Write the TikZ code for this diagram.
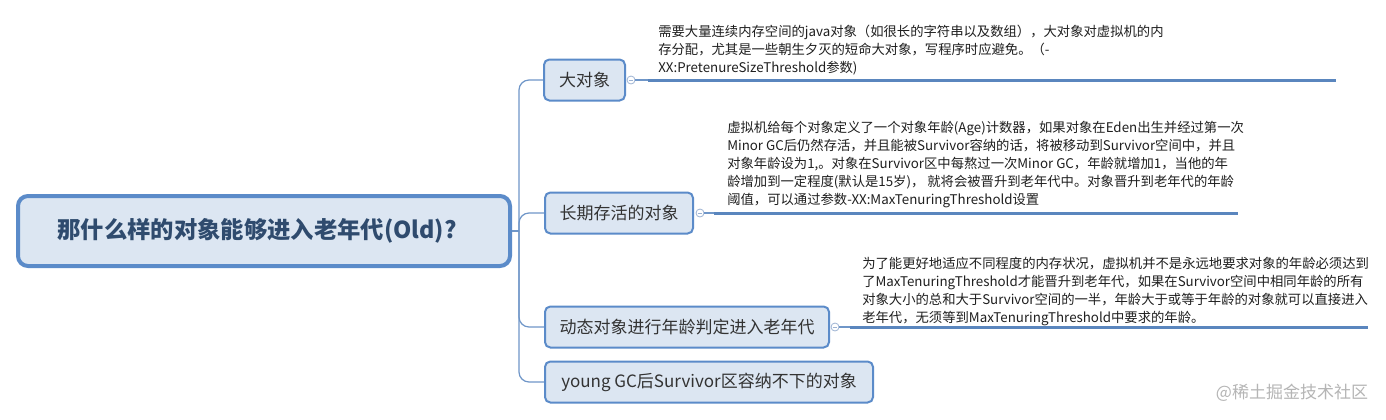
\documentclass[tikz,border=0pt]{standalone}
\usepackage{fontspec}
\setmainfont{Noto Sans CJK SC}
\definecolor{nodeblue}{HTML}{5B8BC9}
\definecolor{nodefill}{HTML}{DCE6F2}
\definecolor{maintext}{HTML}{2F4B6E}
\definecolor{childtext}{HTML}{333333}
\definecolor{notetext}{HTML}{1F1F1F}
\definecolor{connblue}{HTML}{6F96C8}
\definecolor{ulblue}{HTML}{5A86BE}
\definecolor{collapsec}{HTML}{9DB3D3}
\definecolor{wmgray}{HTML}{B5B5B5}
\tikzset{
  mainbox/.style={draw=nodeblue, line width=3pt, fill=nodefill, rounded corners=7.5pt,
    minimum width=369pt, minimum height=52.5pt, inner sep=0pt, text=maintext,
    font=\fontsize{17.5}{21}\selectfont\bfseries},
  childbox/.style={draw=nodeblue, line width=1.5pt, fill=nodefill, rounded corners=4pt,
    minimum height=30.75pt, inner sep=0pt, anchor=west, text=childtext,
    font=\fontsize{12.75}{15}\selectfont},
  connector/.style={draw=connblue, line width=0.9pt},
  branch/.style={connector, rounded corners=7.5pt},
  underlinebar/.style={draw=ulblue, line width=2.25pt},
  collapse/.style={circle, draw=collapsec, fill=white, line width=0.6pt, minimum size=6pt, inner sep=0pt,
    path picture={\draw[collapsec, line width=0.6pt] ([xshift=-1.8pt]path picture bounding box.center) -- ([xshift=1.8pt]path picture bounding box.center);}},
  notetextbox/.style={anchor=north west, inner sep=0pt, align=left, text=notetext,
    font=\fontsize{10}{13.5}\selectfont},
}
\begin{document}
\begin{tikzpicture}[x=0.75pt,y=-0.75pt]
\fill[white] (0,0) rectangle (1386,419);
\useasboundingbox (0,0) rectangle (1386,419);

% root
\node[mainbox] (root) at (264,231) {那什么样的对象能够进入老年代(Old)?\hspace*{10.5pt}};

% children
\node[childbox, minimum width=60.75pt] (n1) at (543,80) {大对象};
\node[childbox, minimum width=111pt] (n2) at (544,213) {长期存活的对象};
\node[childbox, minimum width=213pt] (n3) at (544,327) {动态对象进行年龄判定进入老年代};
\node[childbox, minimum width=246pt] (n4) at (544,382) {young GC后Survivor区容纳不下的对象};

% tree connectors
\coordinate (hub) at (519,231);
\draw[connector] (root.east) -- (hub);
\draw[branch] (hub) |- (n1.west);
\draw[branch] (hub) |- (n2.west);
\draw[branch] (hub) |- (n3.west);
\draw[branch] (hub) |- (n4.west);

% collapse markers
\node[collapse] (k1) at (631,80) {};
\node[collapse] (k2) at (700,213) {};
\node[collapse] (k3) at (835,327) {};

% note underlines
\coordinate (u1s) at (648,80);   \coordinate (u1e) at (1336,80);
\coordinate (u2s) at (714,213);  \coordinate (u2e) at (1238,213);
\coordinate (u3s) at (850,327);  \coordinate (u3e) at (1368,327);
\draw[connector] (k1) -- (u1s);
\draw[connector] (k2) -- (u2s);
\draw[connector] (k3) -- (u3s);
\draw[underlinebar] (u1s) -- (u1e);
\draw[underlinebar] (u2s) -- (u2e);
\draw[underlinebar] (u3s) -- (u3e);

% notes
\node[notetextbox] (t1) at (658,25) {需要大量连续内存空间的java对象（如很长的字符串以及数组），大对象对虚拟机的内\\存分配，尤其是一些朝生夕灭的短命大对象，写程序时应避免。（-\\XX:PretenureSizeThreshold参数)};
\node[notetextbox] (t2) at (727,121) {虚拟机给每个对象定义了一个对象年龄(Age)计数器，如果对象在Eden出生并经过第一次\\Minor GC后仍然存活，并且能被Survivor容纳的话，将被移动到Survivor空间中，并且\\对象年龄设为1,。对象在Survivor区中每熬过一次Minor GC，年龄就增加1，当他的年\\龄增加到一定程度(默认是15岁)， 就将会被晋升到老年代中。对象晋升到老年代的年龄\\阈值，可以通过参数-XX:MaxTenuringThreshold设置};
\node[notetextbox] (t3) at (862,257) {为了能更好地适应不同程度的内存状况，虚拟机并不是永远地要求对象的年龄必须达到\\了MaxTenuringThreshold才能晋升到老年代，如果在Survivor空间中相同年龄的所有\\对象大小的总和大于Survivor空间的一半，年龄大于或等于年龄的对象就可以直接进入\\老年代，无须等到MaxTenuringThreshold中要求的年龄。};

% watermark
\node[text=wmgray, font=\fontsize{12.75}{15}\selectfont, inner sep=0pt] (wm) at (1292,393) {@稀土掘金技术社区};
\end{tikzpicture}
\end{document}
